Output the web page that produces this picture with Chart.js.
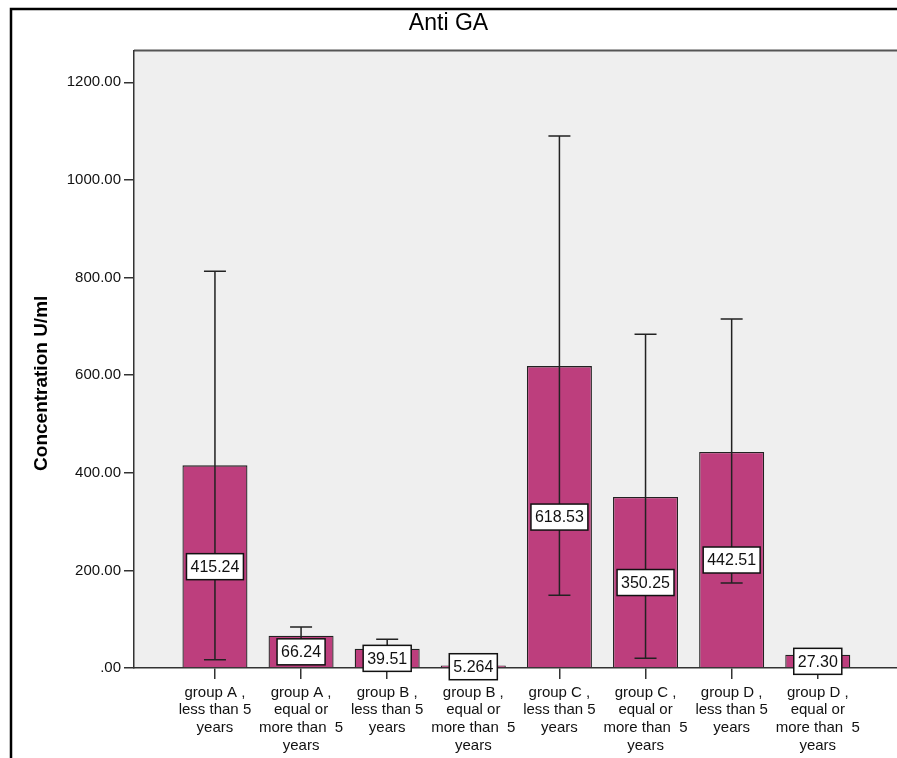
<!DOCTYPE html>
<html>
<head>
<meta charset="utf-8">
<script src="https://cdn.jsdelivr.net/npm/chart.js@4.4.1/dist/chart.umd.min.js"></script>
<style>
  html, body { margin: 0; padding: 0; background: #fff; }
  #wrap { width: 897px; height: 758px; }
</style>
</head>
<body>
<div id="wrap"><canvas id="antiGA"></canvas></div>
<script>
// categories (multi-line tick labels)
var categories = [
  ["group A ,", "less than 5", "years"],
  ["group A ,", "equal or", "more than  5", "years"],
  ["group B ,", "less than 5", "years"],
  ["group B ,", "equal or", "more than  5", "years"],
  ["group C ,", "less than 5", "years"],
  ["group C ,", "equal or", "more than  5", "years"],
  ["group D ,", "less than 5", "years"],
  ["group D ,", "equal or", "more than  5", "years"]
]
// means, shown in the boxes
var means = [415.24, 66.24, 39.51, 5.264, 618.53, 350.25, 442.51, 27.30]
var meanLabels = ["415.24", "66.24", "39.51", "5.264", "618.53", "350.25", "442.51", "27.30"]
// error bar ends
var errLow = [17, 51, 20, 2, 149, 20, 174, 21]
var errHigh = [813, 84, 59, 8, 1090, 684, 715, 33]
var yTicks = [0, 200, 400, 600, 800, 1000, 1200]

var barColor = "#BD3E7D"
var font = "'Liberation Sans', Arial, sans-serif"

// grey plot background, frame, top border of plot
const backdrop = {
  id: "backdrop",
  beforeDraw(chart) {
    const ctx = chart.ctx, a = chart.chartArea
    ctx.save()
    ctx.fillStyle = "#fff"
    ctx.fillRect(0, 0, chart.width, chart.height)
    ctx.fillStyle = "#EFEFEF"
    ctx.fillRect(a.left, a.top, a.right - a.left, a.bottom - a.top)
    // outer frame
    ctx.strokeStyle = "#000"
    ctx.lineWidth = 2.5
    ctx.beginPath()
    ctx.moveTo(11, chart.height)
    ctx.lineTo(11, 9)
    ctx.lineTo(chart.width, 9)
    ctx.stroke()
    // plot top line
    ctx.strokeStyle = "#555"
    ctx.lineWidth = 2
    ctx.beginPath()
    ctx.moveTo(a.left, a.top)
    ctx.lineTo(a.right, a.top)
    ctx.stroke()
    ctx.restore()
  }
}

// error bars and value boxes
const errorBars = {
  id: "errorBars",
  afterDatasetsDraw(chart) {
    const ctx = chart.ctx
    const xs = chart.scales.x, ys = chart.scales.y
    ctx.save()
    ctx.strokeStyle = "#222"
    ctx.lineWidth = 1.5
    for (let i = 0; i < means.length; i++) {
      const x = xs.getPixelForValue(i)
      const lo = ys.getPixelForValue(errLow[i])
      const hi = ys.getPixelForValue(errHigh[i])
      ctx.beginPath()
      ctx.moveTo(x, lo); ctx.lineTo(x, hi)
      ctx.moveTo(x - 11, lo); ctx.lineTo(x + 11, lo)
      ctx.moveTo(x - 11, hi); ctx.lineTo(x + 11, hi)
      ctx.stroke()
    }
    ctx.font = "16px " + font
    ctx.textAlign = "center"
    ctx.textBaseline = "middle"
    for (let i = 0; i < means.length; i++) {
      const x = xs.getPixelForValue(i)
      const y = (ys.getPixelForValue(0) + ys.getPixelForValue(means[i])) / 2
      const w = ctx.measureText(meanLabels[i]).width + 8
      const h = 26
      ctx.fillStyle = "#fff"
      ctx.fillRect(x - w / 2, y - h / 2, w, h)
      ctx.strokeStyle = "#111"
      ctx.lineWidth = 1.5
      ctx.strokeRect(x - w / 2, y - h / 2, w, h)
      ctx.fillStyle = "#111"
      ctx.fillText(meanLabels[i], x, y + 1)
    }
    // y axis title
    const a = chart.chartArea
    ctx.translate(42, (a.top + a.bottom) / 2 + 24)
    ctx.rotate(-Math.PI / 2)
    ctx.font = "bold 19px " + font
    ctx.fillStyle = "#000"
    ctx.fillText("Concentration U/ml", 0, 0)
    ctx.restore()
  }
}

new Chart("antiGA", {
  type: "bar",
  data: {
    datasets: [{
      data: means.map((v, i) => ({ x: i, y: v })),
      backgroundColor: barColor,
      borderColor: "#222",
      borderWidth: 1.3,
      categoryPercentage: 1,
      barPercentage: 0.755
    }]
  },
  options: {
    responsive: true,
    maintainAspectRatio: false,
    animation: false,
    layout: { padding: { top: 10, left: 0, right: 0, bottom: 0 } },
    plugins: {
      legend: { display: false },
      tooltip: { enabled: false },
      title: {
        display: true,
        text: "Anti GA",
        color: "#000",
        font: { family: font, size: 23, weight: "normal" },
        padding: { top: 0, bottom: 13 }
      }
    },
    scales: {
      x: {
        type: "linear",
        offset: false,
        min: -0.94,
        max: 7.92,
        grid: { display: true, offset: false, drawOnChartArea: false, drawTicks: true, tickLength: 11, color: "#333", lineWidth: 1.5 },
        border: { display: true, color: "#333", width: 1.5 },
        ticks: {
          stepSize: 1,
          includeBounds: false,
          autoSkip: false,
          maxRotation: 0,
          padding: 5,
          color: "#111",
          font: { family: font, size: 15, lineHeight: 1.17 },
          callback: v => categories[v]
        },
        afterBuildTicks: s => { s.ticks = s.ticks.filter(t => Number.isInteger(t.value) && t.value >= 0 && t.value < categories.length) },
        afterFit: s => { s.height = 90 }
      },
      y: {
        min: 0,
        max: 1265,
        grid: { display: true, drawOnChartArea: false, drawTicks: true, tickLength: 10, color: "#333", lineWidth: 1.5 },
        border: { display: true, color: "#333", width: 1.5 },
        ticks: {
          padding: 3,
          color: "#111",
          font: { family: font, size: 15 },
          callback: v => v === 0 ? ".00" : v.toFixed(2)
        },
        afterBuildTicks: s => { s.ticks = yTicks.map(v => ({ value: v })) },
        afterFit: s => { s.width = 134 }
      }
    }
  },
  plugins: [backdrop, errorBars]
})
</script>
</body>
</html>
